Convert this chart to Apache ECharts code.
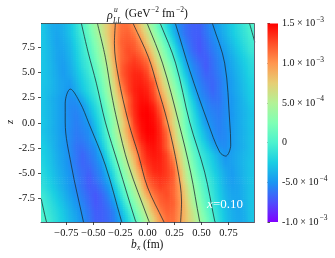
<!DOCTYPE html>
<html><head><meta charset="utf-8">
<style>html,body{margin:0;padding:0;background:#fff}#c{width:335px;height:258px}</style>
<script src="https://cdn.jsdelivr.net/npm/echarts@6/dist/echarts.min.js"></script>
</head><body><div id="c"></div>
<script>
// bin centres
var bxCentres = [-0.96,-0.90,-0.84,-0.78,-0.72,-0.66,-0.60,-0.54,-0.48,-0.42,-0.36,-0.30,-0.24,-0.18,-0.12,-0.06,0,0.06,0.12,0.18,0.24,0.30,0.36,0.42,0.48,0.54,0.60,0.66,0.72,0.78,0.84,0.90,0.96];
var zCentres = [9.6,8.8,8.0,7.2,6.4,5.6,4.8,4.0,3.2,2.4,1.6,0.8,0,-0.8,-1.6,-2.4,-3.2,-4.0,-4.8,-5.6,-6.4,-7.2,-8.0,-8.8,-9.6];
// rho values, units of 1e-5
var rhoRows = [
[-29,-39,-42,-38,-30,-15,1,22,41,61,79,99,114,114,100,76,52,28,4,-18,-40,-56,-65,-69,-69,-60,-52,-43,-35,-26,-17,-8,1],
[-29,-38,-43,-39,-31,-18,-3,15,36,57,79,100,116,119,110,89,65,40,15,-9,-32,-54,-64,-69,-70,-62,-54,-46,-37,-28,-19,-11,-2],
[-29,-37,-44,-41,-34,-21,-7,9,29,49,75,101,119,122,118,102,75,52,28,4,-21,-46,-60,-68,-72,-65,-57,-50,-41,-32,-23,-14,-5],
[-29,-36,-43,-43,-36,-24,-9,4,24,44,70,98,117,126,122,112,92,65,39,15,-9,-36,-55,-66,-72,-67,-60,-53,-45,-36,-27,-18,-8],
[-29,-36,-43,-45,-38,-26,-12,-1,19,40,65,96,117,125,130,122,110,77,50,25,1,-25,-49,-60,-68,-70,-63,-56,-48,-40,-31,-23,-14],
[-29,-35,-42,-47,-40,-29,-15,-4,12,33,56,90,120,130,134,130,120,90,62,37,12,-14,-41,-55,-63,-71,-64,-57,-50,-42,-34,-26,-17],
[-29,-35,-41,-47,-42,-32,-20,-8,5,27,51,85,120,131,138,137,128,102,73,47,21,-6,-31,-52,-60,-68,-65,-59,-51,-44,-36,-28,-19],
[-29,-34,-40,-45,-47,-36,-24,-13,-1,21,45,77,113,130,139,140,134,120,83,56,31,5,-21,-47,-57,-64,-67,-61,-53,-46,-38,-30,-22],
[-30,-35,-40,-45,-50,-40,-28,-16,-5,15,41,70,103,128,140,143,139,124,92,66,40,14,-12,-39,-54,-61,-67,-61,-53,-46,-39,-31,-24],
[-30,-37,-42,-47,-53,-51,-39,-24,-10,7,34,62,91,119,138,145,143,130,106,76,50,23,-3,-28,-51,-57,-63,-62,-54,-48,-41,-33,-25],
[-30,-36,-42,-48,-54,-55,-49,-33,-17,-1,26,53,84,118,138,147,148,139,118,86,59,31,3,-20,-42,-54,-59,-60,-54,-48,-41,-35,-28],
[-30,-36,-42,-48,-54,-57,-52,-40,-23,-6,18,46,77,113,136,148,150,144,126,96,67,39,10,-14,-35,-52,-56,-59,-54,-49,-42,-36,-30],
[-29,-35,-42,-48,-53,-58,-54,-48,-29,-10,13,40,69,98,133,146,150,146,133,98,69,40,13,-10,-29,-48,-54,-58,-53,-48,-42,-35,-29],
[-30,-36,-42,-49,-54,-59,-56,-52,-35,-14,10,39,67,96,126,144,150,148,136,113,77,46,18,-6,-23,-40,-52,-57,-54,-48,-42,-36,-30],
[-28,-35,-41,-48,-54,-60,-59,-54,-42,-20,3,31,59,86,118,139,148,147,138,118,84,53,26,-1,-17,-33,-49,-55,-54,-48,-42,-36,-30],
[-25,-33,-41,-48,-54,-62,-63,-57,-51,-28,-3,23,50,76,106,130,143,145,138,119,91,62,34,7,-10,-24,-39,-51,-53,-47,-42,-37,-30],
[-24,-31,-39,-46,-53,-61,-67,-61,-54,-39,-12,14,40,66,92,124,139,143,140,128,103,70,41,15,-5,-16,-28,-40,-50,-45,-40,-35,-30],
[-22,-30,-38,-46,-53,-61,-67,-64,-57,-47,-21,5,31,56,83,120,134,140,139,130,113,77,45,21,-1,-13,-24,-36,-47,-45,-40,-34,-29],
[-19,-28,-36,-44,-51,-59,-65,-68,-60,-52,-31,-6,21,47,73,102,128,137,138,131,120,85,51,27,5,-8,-20,-32,-42,-47,-41,-35,-29],
[-17,-26,-34,-42,-50,-57,-64,-71,-63,-55,-41,-14,12,37,62,90,120,130,134,130,120,90,56,33,12,-4,-15,-29,-40,-47,-42,-35,-29],
[-14,-23,-31,-40,-48,-56,-63,-70,-68,-60,-49,-25,1,25,50,77,110,122,130,125,117,96,65,40,19,-1,-12,-26,-38,-45,-43,-36,-29],
[-8,-18,-27,-36,-45,-53,-60,-67,-72,-66,-55,-36,-9,15,39,65,92,112,122,126,117,98,70,44,24,4,-9,-24,-36,-43,-43,-36,-29],
[-5,-14,-23,-32,-41,-50,-57,-65,-72,-68,-60,-46,-21,4,28,52,75,102,118,122,119,101,75,49,29,9,-7,-21,-34,-41,-44,-37,-29],
[-2,-11,-19,-28,-37,-46,-54,-62,-70,-69,-64,-54,-32,-9,15,40,65,89,110,119,116,100,79,57,36,15,-3,-18,-31,-39,-43,-38,-29],
[1,-8,-17,-26,-35,-43,-52,-60,-69,-69,-65,-56,-40,-18,4,28,52,76,100,114,114,99,79,61,41,22,1,-15,-30,-38,-42,-39,-29]
];
// contour lines: [bx, z]
var contourLeft0 = [[-0.612,9.9],[-0.547,6.92],[-0.473,3.94],[-0.390,0.07],[-0.269,-4.20],[-0.111,-9.76],[-0.10,-9.9]];
var contourLeft5 = [[-0.464,9.9],[-0.390,6.52],[-0.334,2.95],[-0.278,0.07],[-0.176,-4.20],[0.009,-9.66],[0.019,-9.9]];
var contourLeft10 = [[-0.297,9.9],[-0.306,7.91],[-0.269,4.54],[-0.176,0.07],[-0.083,-3.21],[0,-6.39],[0.148,-9.76],[0.155,-9.9]];
var contourRight10 = [[-0.135,9.9],[-0.130,9.80],[0.009,6.52],[0.093,3.55],[0.186,0.07],[0.278,-4.50],[0.315,-7.87],[0.306,-9.9]];
var contourRight5 = [[-0.01,9.9],[0,9.80],[0.139,5.93],[0.288,0.07],[0.399,-4.90],[0.482,-9.76],[0.49,-9.9]];
var contourRight0 = [[0.11,9.9],[0.121,9.80],[0.260,5.93],[0.390,0.07],[0.529,-4.90],[0.622,-9.76],[0.63,-9.9]];
var contourLoopRight = [[0.25,9.9],[0.260,9.80],[0.390,5.23],[0.557,0.07],[0.668,-2.91],[0.724,-3.31],[0.770,-2.21],[0.761,0.07],[0.714,5.93],[0.603,9.80],[0.60,9.9]];
var contourLoopLeft = [[-0.235,-9.9],[-0.241,-9.76],[-0.390,-4.20],[-0.547,0.07],[-0.622,1.96],[-0.714,3.35],[-0.761,1.96],[-0.761,0.07],[-0.705,-4.20],[-0.594,-9.76],[-0.59,-9.9]];
var contourCornerTR = [[0.94,9.9],[0.946,9.80],[0.993,8.01]];
var contourCornerBL = [[-0.983,-7.57],[-0.937,-9.76],[-0.93,-9.9]];
var contours = [contourLeft0,contourLeft5,contourLeft10,contourRight10,contourRight5,contourRight0,contourLoopRight,contourLoopLeft,contourCornerTR,contourCornerBL];
// tick labels
var xTicks = [-0.75,-0.5,-0.25,0,0.25,0.5,0.75];
var xTickLabels = ['\u22120.75','\u22120.50','\u22120.25','0.00','0.25','0.50','0.75'];
var zTicks = [-7.5,-5,-2.5,0,2.5,5,7.5];
var zTickLabels = ['-7.5','-5.0','-2.5','0.0','2.5','5.0','7.5'];
var barLabels = {'150':'1.5 \u00d7 10{s|\u22123}','100':'1.0 \u00d7 10{s|\u22123}','50':'5.0 \u00d7 10{s|\u22124}','0':'0','-50':'-5.0 \u00d7 10{s|\u22124}','-100':'-1.0 \u00d7 10{s|\u22123}'};
var rainbow = ['#8000ff','#4d4ffc','#1a96f2','#1acee3','#4df2ce','#80ffb4','#b3f296','#e6ce74','#ff964f','#ff4f28','#ff0000'];
var RHO_MIN = -100, RHO_MAX = 150;

var FONT = '"Liberation Serif","Times New Roman",serif';
var nCols = bxCentres.length, nRows = zCentres.length;
var heat = [];
rhoRows.forEach(function(row,r){row.forEach(function(v,c){heat.push([bxCentres[c],zCentres[r],v]);});});

// Smooth shading of a cell between the read values of its neighbours (display only).
function sample(rf,cf){
  rf=Math.max(0,Math.min(nRows-1,rf)); cf=Math.max(0,Math.min(nCols-1,cf));
  var r0=Math.floor(rf),c0=Math.floor(cf),r1=Math.min(nRows-1,r0+1),c1=Math.min(nCols-1,c0+1),a=rf-r0,b=cf-c0;
  return (rhoRows[r0][c0]*(1-b)+rhoRows[r0][c1]*b)*(1-a)+(rhoRows[r1][c0]*(1-b)+rhoRows[r1][c1]*b)*a;
}
var SUB = 4;
function renderCell(p,api){
  var i=p.dataIndex,r=Math.floor(i/nCols),c=i%nCols,kids=[];
  for(var s=0;s<SUB;s++){for(var u=0;u<SUB;u++){
    var fc=(u+0.5)/SUB-0.5,fr=(s+0.5)/SUB-0.5;
    var a=api.coord([api.value(0)+(u/SUB-0.5)*0.06,api.value(1)+(0.5-s/SUB)*0.8]);
    var b=api.coord([api.value(0)+((u+1)/SUB-0.5)*0.06,api.value(1)+(0.5-(s+1)/SUB)*0.8]);
    var t=(sample(r+fr,c+fc)-RHO_MIN)/(RHO_MAX-RHO_MIN);
    kids.push({type:'rect',shape:{x:a[0],y:a[1],width:b[0]-a[0]+0.7,height:b[1]-a[1]+0.7},style:{fill:echarts.color.lerp(t,rainbow)}});
  }}
  return {type:'group',children:kids};
}

var series = [{
  type:'custom',xAxisIndex:0,yAxisIndex:0,clip:true,silent:true,z:1,
  encode:{x:0,y:1},data:heat,renderItem:renderCell
},{
  type:'custom',xAxisIndex:1,yAxisIndex:1,silent:true,z:1,
  encode:{x:0,y:1},data:[[0,RHO_MIN,1,RHO_MAX]],
  renderItem:function(p,api){
    var a=api.coord([api.value(0),api.value(3)]);
    var b=api.coord([api.value(2),api.value(1)]);
    var stops=rainbow.map(function(c,i){return {offset:1-i/(rainbow.length-1),color:c};}).reverse();
    return {type:'rect',shape:{x:a[0],y:a[1],width:b[0]-a[0],height:b[1]-a[1]},
      style:{fill:new echarts.graphic.LinearGradient(0,0,0,1,stops)}};
  }
}];
contours.forEach(function(c){
  series.push({type:'line',xAxisIndex:0,yAxisIndex:0,data:c,smooth:0.35,showSymbol:false,symbol:'none',silent:true,z:3,clip:true,
    lineStyle:{color:'#1c2a30',width:0.9,opacity:0.85}});
});

function t(text,x,y,size,extra){
  return {type:'text',z:10,style:Object.assign({text:text,x:x,y:y,font:size+'px '+FONT,fill:'#111',verticalAlign:'middle',align:'left'},extra||{})};
}
var chart = echarts.init(document.getElementById('c'),null,{renderer:'canvas'});
chart.setOption({
  animation:false,
  backgroundColor:'#fff',
  grid:[{left:41,right:80.5,top:23.5,bottom:36,show:false},{left:267.5,right:57,top:23.5,bottom:36,show:false}],
  xAxis:[{type:'value',gridIndex:0,min:-0.985,max:0.99,splitLine:{show:false},
      axisLine:{show:true,onZero:false,lineStyle:{color:'#556',width:1}},
      axisTick:{show:true,length:3,customValues:xTicks,lineStyle:{color:'#222',width:0.8}},
      axisLabel:{show:true,customValues:xTicks,margin:6,fontFamily:FONT,fontSize:10.5,color:'#111',
        formatter:function(v){return xTickLabels[xTicks.indexOf(v)]||'';}}},
    {type:'value',gridIndex:1,min:0,max:1,show:false}],
  yAxis:[{type:'value',gridIndex:0,min:-9.86,max:9.87,splitLine:{show:false},
      axisLine:{show:true,onZero:false,lineStyle:{color:'#556',width:1}},
      axisTick:{show:true,length:3,customValues:zTicks,lineStyle:{color:'#222',width:0.8}},
      axisLabel:{show:true,customValues:zTicks,margin:6,fontFamily:FONT,fontSize:10.5,color:'#111',
        formatter:function(v){return zTickLabels[zTicks.indexOf(v)]||'';}}},
    {type:'value',gridIndex:1,position:'right',min:-100,max:150,interval:50,splitLine:{show:false},
      axisLine:{show:false},
      axisTick:{show:true,length:2.5,lineStyle:{color:'#222',width:0.8}},
      axisLabel:{show:true,margin:4,fontFamily:FONT,fontSize:10,color:'#111',
        formatter:function(v){return barLabels[String(v)];},
        rich:{s:{fontFamily:FONT,fontSize:7.5,color:'#111',padding:[0,0,7,1]}}}}],
  series:series,
  graphic:[
    {type:'rect',z:9,shape:{x:41,y:23,width:213.5,height:0.8},style:{fill:'#333'},silent:true},
    {type:'rect',z:9,shape:{x:254,y:23.5,width:1,height:198.5},style:{fill:'#667'},silent:true},
    t('\u03c1',107,16,12,{font:'italic 12px '+FONT}),
    t('u',114,10,7.5,{font:'italic 7.5px '+FONT}),
    t('LL',113,21,7.5,{font:'italic 7.5px '+FONT}),
    t('(GeV',125,14,11.5),
    t('\u22122',151,10,7.5),
    t('fm',162,14,11.5),
    t('\u22122',176,10,7.5),
    t(')',184,14,11.5),
    t('b',131,245,11.5,{font:'italic 11.5px '+FONT}),
    t('x',137,248,7.5,{font:'italic 7.5px '+FONT}),
    t('(fm)',143,245,11.5),
    {type:'text',z:10,x:10,y:122,rotation:Math.PI/2,style:{text:'z',font:'italic 10.5px '+FONT,fill:'#111',align:'center',verticalAlign:'middle'}},
    t('x',207,205,13,{fill:'#fff',font:'italic 13px '+FONT}),
    t('=0.10',213,205,13,{fill:'#fff'})
  ]
});
</script></body></html>
